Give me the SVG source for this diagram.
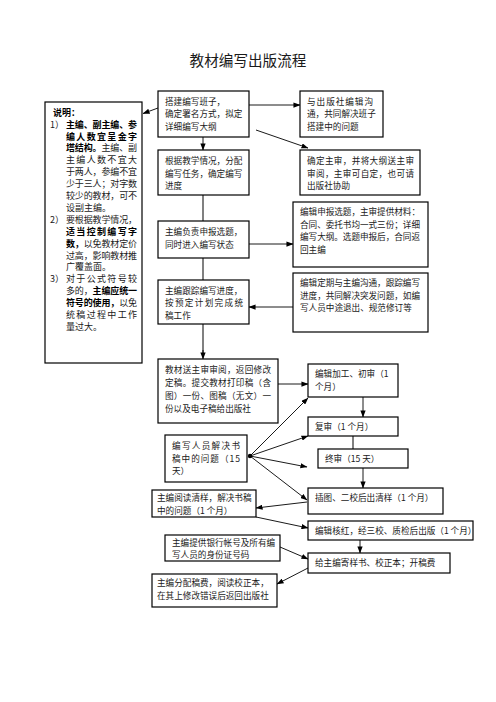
<svg xmlns="http://www.w3.org/2000/svg" width="496" height="702" viewBox="0 0 496 702">
<style>
text{font-family:"Noto Sans CJK SC","Noto Sans",sans-serif;fill:#1a1a1a}
.t{font-size:8.6px}
.n{font-size:9px}
.b{font-weight:bold;fill:#000}
.title{font-size:14.6px}
rect{fill:#fff;stroke:#000;stroke-width:1.2}
.c line{stroke:#000;stroke-width:0.9}
.c line.g{stroke:#808080;stroke-width:2}
</style>
<defs>
<marker id="a" viewBox="0 0 8 6" refX="7.5" refY="3" markerWidth="7" markerHeight="5.5" markerUnits="userSpaceOnUse" orient="auto">
<path d="M0,0 L8,3 L0,6 Z" fill="#000"/>
</marker>
</defs>
<rect x="0" y="0" width="496" height="702" style="fill:#fff;stroke:none"/>
<text class="title" x="248" y="65.5" text-anchor="middle">教材编写出版流程</text>

<g class="c" id="connectors">
<line x1="158" y1="108" x2="143" y2="113.5" marker-end="url(#a)"/>
<line x1="249" y1="105" x2="300" y2="105" marker-end="url(#a)"/>
<line x1="256" y1="130" x2="308" y2="148" marker-end="url(#a)"/>
<line x1="203" y1="137" x2="203" y2="150" marker-end="url(#a)"/>
<line class="g" x1="203" y1="195" x2="203" y2="221"/>
<line class="g" x1="203" y1="258" x2="203" y2="280"/>
<line x1="249" y1="244" x2="293" y2="244" marker-end="url(#a)"/>
<line x1="293" y1="307" x2="249" y2="307" marker-end="url(#a)"/>
<line class="g" x1="203" y1="324" x2="203" y2="354"/>
<line x1="203" y1="350" x2="203" y2="359" marker-end="url(#a)"/>
<line x1="278" y1="384" x2="308" y2="384" marker-end="url(#a)"/>
<line x1="250" y1="456" x2="308" y2="398" marker-end="url(#a)"/>
<line x1="250" y1="456" x2="308" y2="436" marker-end="url(#a)"/>
<line x1="250" y1="456" x2="307" y2="467" marker-end="url(#a)"/>
<line x1="250" y1="456" x2="307" y2="500" marker-end="url(#a)"/>
<circle cx="250" cy="456" r="2.2" fill="#000"/>
<line x1="363" y1="397" x2="363" y2="417" marker-end="url(#a)"/>
<line class="g" x1="353" y1="436" x2="353" y2="458"/>
<line x1="363" y1="468" x2="363" y2="488" marker-end="url(#a)"/>
<line x1="307" y1="502" x2="256" y2="508" marker-end="url(#a)"/>
<line x1="256" y1="517" x2="308" y2="528" marker-end="url(#a)"/>
<line x1="360" y1="540" x2="360" y2="553" marker-end="url(#a)"/>
<line x1="280" y1="547" x2="308" y2="559" marker-end="url(#a)"/>
<line x1="308" y1="568" x2="277" y2="584" marker-end="url(#a)"/>
</g>

<g id="note">
<rect x="45" y="102" width="97" height="261"/>
<text class="n b" x="53" y="116">说明：</text>
<text class="n" x="50" y="127.6">1）</text>
<text class="n b" x="66" y="127.6" textLength="71" lengthAdjust="spacing">主编、副主编、参</text>
<text class="n b" x="66" y="139.5" textLength="71" lengthAdjust="spacing">编人数宜呈金字</text>
<text class="n" x="66" y="151.4" textLength="71" lengthAdjust="spacing"><tspan class="b">塔结构。</tspan>主编、副</text>
<text class="n" x="66" y="163.3" textLength="71" lengthAdjust="spacing">主编人数不宜大</text>
<text class="n" x="66" y="175.2" textLength="71" lengthAdjust="spacing">于两人，参编不宜</text>
<text class="n" x="66" y="187.1" textLength="71" lengthAdjust="spacing">少于三人；对字数</text>
<text class="n" x="66" y="199" textLength="71" lengthAdjust="spacing">较少的教材，可不</text>
<text class="n" x="66" y="210.9">设副主编。</text>
<text class="n" x="50" y="222.8">2）</text>
<text class="n" x="66" y="222.8" textLength="71" lengthAdjust="spacing">要根据教学情况，</text>
<text class="n b" x="66" y="234.7" textLength="71" lengthAdjust="spacing">适当控制编写字</text>
<text class="n" x="66" y="246.6" textLength="71" lengthAdjust="spacing"><tspan class="b">数，</tspan>以免教材定价</text>
<text class="n" x="66" y="258.5" textLength="71" lengthAdjust="spacing">过高，影响教材推</text>
<text class="n" x="66" y="270.4">广覆盖面。</text>
<text class="n" x="50" y="282.3">3）</text>
<text class="n" x="66" y="282.3" textLength="71" lengthAdjust="spacing">对于公式符号较</text>
<text class="n" x="66" y="294.2" textLength="71" lengthAdjust="spacing">多的，<tspan class="b">主编应统一</tspan></text>
<text class="n" x="66" y="306.1" textLength="71" lengthAdjust="spacing"><tspan class="b">符号的使用，</tspan>以免</text>
<text class="n" x="66" y="318" textLength="71" lengthAdjust="spacing">统稿过程中工作</text>
<text class="n" x="66" y="329.9">量过大。</text>
</g>

<g id="b1">
<rect x="158" y="91" width="91" height="46"/>
<text class="t" x="165" y="104.5">搭建编写班子，</text>
<text class="t" x="165" y="117">确定署名方式，拟定</text>
<text class="t" x="165" y="129.5">详细编写大纲</text>
</g>
<g id="b2">
<rect x="158" y="150" width="91" height="45"/>
<text class="t" x="165" y="164">根据教学情况，分配</text>
<text class="t" x="165" y="176.5">编写任务，确定编写</text>
<text class="t" x="165" y="189">进度</text>
</g>
<g id="b3">
<rect x="158" y="221" width="91" height="37"/>
<text class="t" x="165" y="235">主编负责申报选题，</text>
<text class="t" x="165" y="247.5">同时进入编写状态</text>
</g>
<g id="b4">
<rect x="158" y="280" width="91" height="44"/>
<text class="t" x="165" y="293.5">主编跟踪编写进度，</text>
<text class="t" x="165" y="306" textLength="78" lengthAdjust="spacing">按预定计划完成统</text>
<text class="t" x="165" y="318.5">稿工作</text>
</g>
<g id="b5">
<rect x="158" y="359" width="120" height="64"/>
<text class="t" x="165" y="372.5" textLength="106" lengthAdjust="spacing">教材送主审审阅，返回修改</text>
<text class="t" x="165" y="385.5" textLength="106" lengthAdjust="spacing">定稿。提交教材打印稿（含</text>
<text class="t" x="165" y="398.5" textLength="106" lengthAdjust="spacing">图）一份、图稿（无文）一</text>
<text class="t" x="165" y="411.5">份以及电子稿给出版社</text>
</g>
<g id="r1">
<rect x="300" y="91" width="83" height="46"/>
<text class="t" x="307" y="104.5" textLength="66" lengthAdjust="spacing">与出版社编辑沟</text>
<text class="t" x="307" y="117">通，共同解决班子</text>
<text class="t" x="307" y="129.5">搭建中的问题</text>
</g>
<g id="r2">
<rect x="300" y="150" width="120" height="45"/>
<text class="t" x="307" y="164" textLength="107" lengthAdjust="spacing">确定主审，并将大纲送主审</text>
<text class="t" x="307" y="176.5" textLength="107" lengthAdjust="spacing">审阅，主审可自定，也可请</text>
<text class="t" x="307" y="189">出版社协助</text>
</g>
<g id="r3">
<rect x="293" y="202" width="135" height="65"/>
<text class="t" x="300" y="215" textLength="120" lengthAdjust="spacing">编辑申报选题，主审提供材料：</text>
<text class="t" x="300" y="227.5" textLength="120" lengthAdjust="spacing">合同、委托书均一式三份；详细</text>
<text class="t" x="300" y="240" textLength="120" lengthAdjust="spacing">编写大纲。选题申报后，合同返</text>
<text class="t" x="300" y="252.5">回主编</text>
</g>
<g id="r4">
<rect x="293" y="273" width="135" height="59"/>
<text class="t" x="300" y="286" textLength="120" lengthAdjust="spacing">编辑定期与主编沟通，跟踪编写</text>
<text class="t" x="300" y="298.5" textLength="120" lengthAdjust="spacing">进度，共同解决突发问题，如编</text>
<text class="t" x="300" y="311">写人员中途退出、规范修订等</text>
</g>
<g id="l6">
<rect x="165" y="435" width="82" height="47"/>
<text class="t" x="172" y="449" textLength="68" lengthAdjust="spacing">编写人员解决书</text>
<text class="t" x="172" y="461.5" textLength="68" lengthAdjust="spacing">稿中的问题（15</text>
<text class="t" x="172" y="474">天）</text>
</g>
<g id="r5">
<rect x="308" y="364" width="90" height="33"/>
<text class="t" x="315" y="377">编辑加工、初审（1</text>
<text class="t" x="315" y="390">个月）</text>
</g>
<g id="r6">
<rect x="308" y="417" width="90" height="19"/>
<text class="t" x="315" y="429.5">复审（1 个月）</text>
</g>
<g id="r7">
<rect x="318" y="449" width="90" height="19"/>
<text class="t" x="325" y="461.5">终审（15 天）</text>
</g>
<g id="r8">
<rect x="308" y="488" width="135" height="26"/>
<text class="t" x="315" y="500.5">插图、二校后出清样（1 个月）</text>
</g>
<g id="l7">
<rect x="152" y="490" width="104" height="27"/>
<text class="t" x="157" y="500.5">主编阅读清样，解决书稿</text>
<text class="t" x="157" y="514">中的问题（1 个月）</text>
</g>
<g id="r9">
<rect x="308" y="521" width="165" height="19"/>
<text class="t" x="315" y="533.5">编辑核红，经三校、质检后出版（1 个月）</text>
</g>
<g id="l8">
<rect x="165" y="535" width="115" height="26"/>
<text class="t" x="172" y="546">主编提供银行帐号及所有编</text>
<text class="t" x="172" y="558">写人员的身份证号码</text>
</g>
<g id="r10">
<rect x="308" y="553" width="142" height="20"/>
<text class="t" x="315" y="566">给主编寄样书、校正本；开稿费</text>
</g>
<g id="l9">
<rect x="152" y="574" width="125" height="33"/>
<text class="t" x="157" y="586">主编分配稿费，阅读校正本，</text>
<text class="t" x="157" y="599">在其上修改错误后返回出版社</text>
</g>
</svg>
